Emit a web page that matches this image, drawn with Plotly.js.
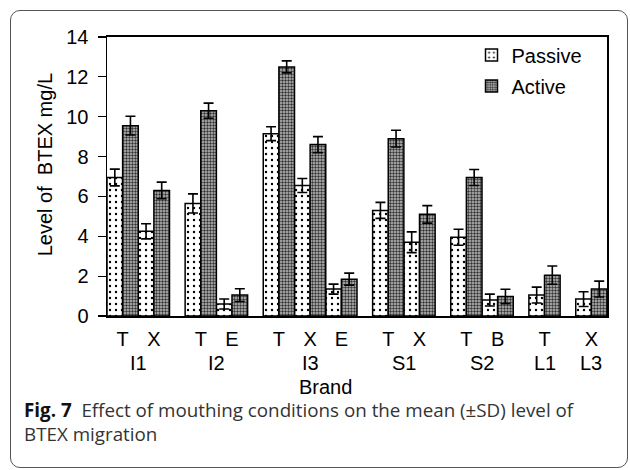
<!DOCTYPE html>
<html>
<head>
<meta charset="utf-8">
<script src="https://cdn.plot.ly/plotly-3.0.1.min.js"></script>
<style>
  html, body { margin: 0; padding: 0; background: #fff; }
  #wrap { position: relative; width: 630px; height: 470px; }
  #chart { position: absolute; left: 0; top: 0; width: 630px; height: 470px; }
  #frame { position: absolute; left: 10px; top: 10px; width: 616px; height: 456px;
           border: 1.5px solid #555; border-radius: 10px; pointer-events: none; }
</style>
</head>
<body>
<div id="wrap">
  <div id="chart"></div>
  <div id="frame"></div>
</div>
<script>
// ---- data ----
const brands    = ['I1','I1','I2','I2','I3','I3','I3','S1','S1','S2','S2','L1','L3'];
const types     = ['T','X','T','E','T','X','E','T','X','T','B','T','X'];
const passive   = [6.95, 4.25, 5.65, 0.6, 9.15, 6.55, 1.35, 5.3, 3.7, 3.95, 0.8, 1.05, 0.85];
const passiveSD = [0.42, 0.38, 0.48, 0.25, 0.35, 0.35, 0.25, 0.4, 0.52, 0.4, 0.3, 0.4, 0.37];
const active    = [9.55, 6.3, 10.3, 1.05, 12.5, 8.6, 1.85, 8.9, 5.1, 6.95, 0.98, 2.05, 1.35];
const activeSD  = [0.47, 0.42, 0.38, 0.32, 0.3, 0.4, 0.3, 0.42, 0.44, 0.4, 0.36, 0.46, 0.4];
const seriesNames = ['Passive', 'Active'];
const xTitle = 'Brand';
const yTitle = 'Level of \u00a0BTEX mg/L';
const caption = '<b style="color:#111">Fig. 7</b>  Effect of mouthing conditions on the mean (±SD) level of<br>BTEX migration';

// positions: one unit per pair, half-unit gap between brands
const xpos = [];
let p = 0;
for (let i = 0; i < brands.length; i++) {
  if (i > 0 && brands[i] !== brands[i-1]) p += 0.5;
  xpos.push(p);
  p += 1;
}
const brandList = [];
const brandCenter = {};
brands.forEach((b, i) => {
  if (!(b in brandCenter)) { brandCenter[b] = []; brandList.push(b); }
  brandCenter[b].push(xpos[i]);
});

const FONT = 'Arial';
const CAPFONT = 'Open Sans';
const FS = 20;
const errStyle = { type: 'data', visible: true, color: '#000', thickness: 1.6, width: 5 };

const traces = [
  {
    type: 'bar', name: seriesNames[0], x: xpos, y: passive,
    error_y: Object.assign({ array: passiveSD }, errStyle),
    legendgroup: 'a',
    marker: { color: '#fff', line: { color: '#000', width: 1.5 },
              pattern: { shape: '.', fgcolor: '#000', bgcolor: '#fff', size: 6, solidity: 0.12 } }
  },
  {
    type: 'bar', name: seriesNames[1], x: xpos, y: active,
    error_y: Object.assign({ array: activeSD }, errStyle),
    legendgroup: 'b',
    marker: { color: '#999', line: { color: '#000', width: 1.5 },
              pattern: { shape: '.', fgcolor: '#333', bgcolor: '#c0c0c0', size: 3, solidity: 0.5 } }
  }
];

const annotations = brandList.map(b => {
  const xs = brandCenter[b];
  return { xref: 'x', yref: 'paper', x: (Math.min(...xs) + Math.max(...xs)) / 2, y: -0.168,
           text: b, showarrow: false, xanchor: 'center', yanchor: 'middle',
           font: { family: FONT, size: FS, color: '#000' } };
});
annotations.push(
  { xref: 'paper', yref: 'paper', x: 0.436, y: -0.254, text: xTitle, showarrow: false,
    xanchor: 'center', yanchor: 'middle', font: { family: FONT, size: FS, color: '#000' } },
  { xref: 'paper', yref: 'paper', x: -0.124, y: 0.54, text: yTitle, showarrow: false, textangle: -90,
    xanchor: 'center', yanchor: 'middle', font: { family: FONT, size: FS, color: '#000' } },
  { xref: 'paper', yref: 'paper', x: -0.17, y: -0.38, xanchor: 'left', yanchor: 'middle', align: 'left',
    showarrow: false, font: { family: CAPFONT, size: 18.8, color: '#333' }, text: caption }
);

const layout = {
  width: 630, height: 470,
  margin: { l: 107, r: 23, t: 37, b: 154 },
  paper_bgcolor: '#fff', plot_bgcolor: '#fff',
  barmode: 'group', bargap: 0, bargroupgap: 0,
  font: { family: FONT, size: FS, color: '#000' },
  showlegend: true,
  legend: { x: 0.729, y: 1.005, xanchor: 'left', yanchor: 'top', bgcolor: 'rgba(0,0,0,0)',
            font: { family: FONT, size: FS, color: '#000' }, traceorder: 'grouped', tracegroupgap: 2,
            itemwidth: 30 },
  xaxis: {
    type: 'linear', range: [xpos[0] - 0.5, xpos[xpos.length-1] + 0.5],
    tickvals: xpos, ticktext: types, ticks: '', ticklabelstandoff: 4,
    showgrid: false, zeroline: false, showline: true, linecolor: '#000', linewidth: 2, mirror: true,
    tickfont: { family: FONT, size: FS, color: '#000' }
  },
  yaxis: {
    range: [0, 14], dtick: 2, tick0: 0, ticks: 'outside', ticklen: 8, tickwidth: 1.2, tickcolor: '#000',
    ticklabelstandoff: 5,
    showgrid: false, zeroline: false, showline: true, linecolor: '#000', linewidth: 1.5, mirror: true,
    tickfont: { family: FONT, size: FS, color: '#000' }
  },
  annotations: annotations
};

Plotly.newPlot('chart', traces, layout, { staticPlot: true, displayModeBar: false });
</script>
</body>
</html>
